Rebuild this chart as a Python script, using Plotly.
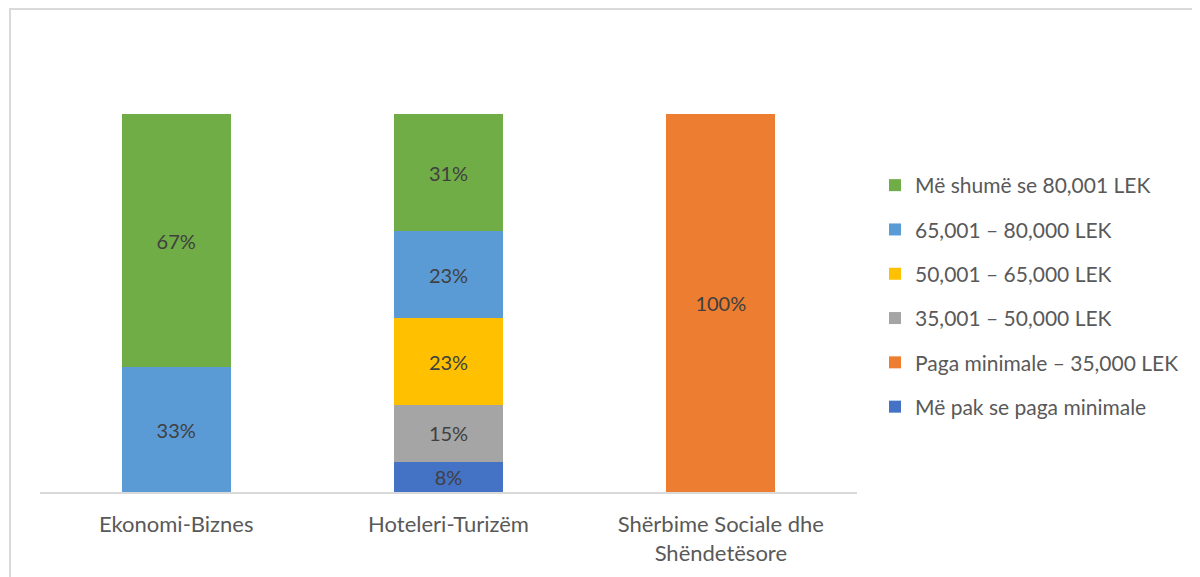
import plotly.graph_objects as go

categories = ["Ekonomi-Biznes", "Hoteleri-Turizëm", "Shërbime Sociale dhe<br>Shëndetësore"]

series_names = [
    "Më pak se paga minimale",
    "Paga minimale – 35,000 LEK",
    "35,001 – 50,000 LEK",
    "50,001 – 65,000 LEK",
    "65,001 – 80,000 LEK",
    "Më shumë se 80,001 LEK",
]
series_colors = ["#4472C4", "#ED7D31", "#A5A5A5", "#FFC000", "#5B9BD5", "#70AD47"]

less_than_min = [0, 8, 0]
min_to_35k = [0, 0, 100]
k35_to_50 = [0, 15, 0]
k50_to_65 = [0, 23, 0]
k65_to_80 = [33, 23, 0]
over_80k = [67, 31, 0]

series_values = [less_than_min, min_to_35k, k35_to_50, k50_to_65, k65_to_80, over_80k]

FONT = "Lato"
OFF = 8  # page body margin offset

fig = go.Figure()
n = len(series_names)
for i, (name, color, vals) in enumerate(zip(series_names, series_colors, series_values)):
    fig.add_trace(go.Bar(
        x=categories,
        y=[v / 100 for v in vals],
        name=name,
        marker=dict(color=color, line=dict(width=0)),
        text=[f"{v}%" if v > 0 else "" for v in vals],
        textposition="inside",
        insidetextanchor="middle",
        textfont=dict(color="#404040", size=20, family=FONT),
        legendgroup=f"g{i}",
        legendrank=n - i,
        hoverinfo="skip",
    ))

W, H = 1200, 577
L = 40 - OFF
T = 114 - OFF
B = H - (492 - OFF)
R = W - (857 - OFF)
pw, ph = W - L - R, H - T - B

def px_x(x):
    return (x - OFF - L) / pw

def px_y(y):
    return (H - B - (y - OFF)) / ph

fig.update_layout(
    width=W, height=H,
    barmode="stack",
    bargap=0.6,
    plot_bgcolor="white",
    paper_bgcolor="white",
    margin=dict(l=L, r=R, t=T, b=B),
    font=dict(family=FONT, color="#595959", size=21),
    uniformtext=dict(minsize=20, mode="show"),
    showlegend=True,
    legend=dict(
        traceorder="grouped",
        tracegroupgap=14,
        x=px_x(875), xanchor="left",
        y=px_y(296), yanchor="middle",
        font=dict(size=21, color="#595959", family=FONT),
        itemwidth=30,
        bgcolor="rgba(0,0,0,0)",
    ),
    xaxis=dict(
        showline=True, linecolor="#D9D9D9", linewidth=2,
        ticks="", showgrid=False,
        ticklabelstandoff=12,
        tickfont=dict(size=22, color="#595959", family=FONT),
    ),
    yaxis=dict(
        range=[0, 1], visible=False, showgrid=False,
    ),
    shapes=[dict(
        type="rect", xref="paper", yref="paper",
        x0=px_x(10), x1=px_x(1215), y0=px_y(600), y1=px_y(9),
        line=dict(color="#D9D9D9", width=2), fillcolor="rgba(0,0,0,0)", layer="below",
    )],
)

fig.write_html("out.html")
